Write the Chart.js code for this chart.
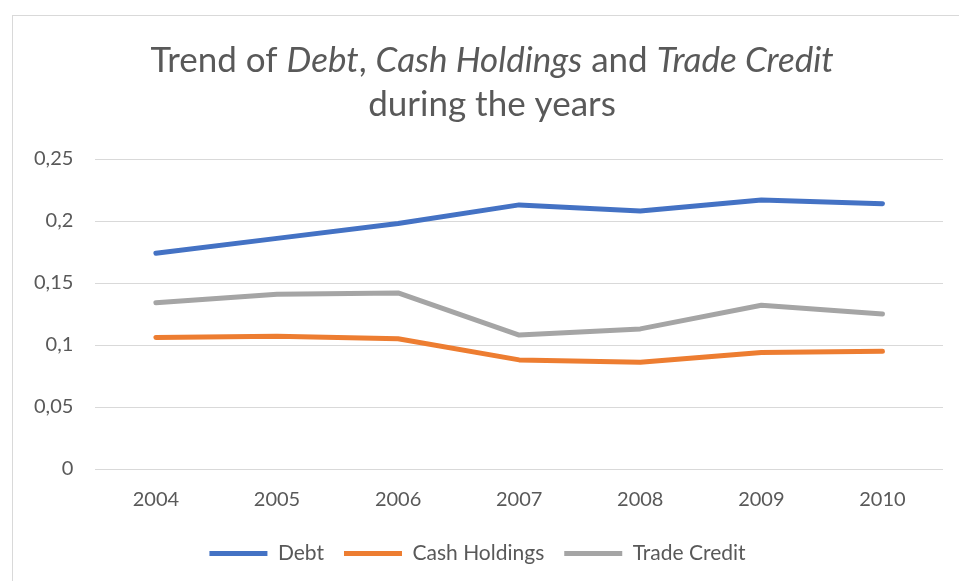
<!DOCTYPE html>
<html lang="en">
<head>
  <meta charset="UTF-8" />
  <title>Debt, Cash Holdings and Trade Credit</title>
  <script src="https://cdn.jsdelivr.net/npm/chart.js"></script>
  <style>
    html, body { margin: 0; padding: 0; background: #fff; overflow: hidden; }
    .frame {
      position: absolute; left: 12px; top: 15px;
      width: 960px; height: 580px;
      border: 1px solid #d9d9d9;
    }
    .wrap { position: absolute; left: 0; top: 0; width: 959px; height: 581px; }
  </style>
</head>
<body>
  <div class="frame"></div>
  <div class="wrap"><canvas id="trendChart"></canvas></div>

  <script>
    const years = ['2004', '2005', '2006', '2007', '2008', '2009', '2010'];
    const debt = [0.174, 0.186, 0.198, 0.213, 0.208, 0.217, 0.214];
    const cashHoldings = [0.106, 0.107, 0.105, 0.088, 0.086, 0.094, 0.095];
    const tradeCredit = [0.134, 0.141, 0.142, 0.108, 0.113, 0.132, 0.125];

    const FONT = 'Lato, "Open Sans", sans-serif';
    const TEXT = '#595959';

    // title with italic variable names, drawn in pieces
    const titleLines = [
      [['Trend of ', false], ['Debt', true], [', ', false], ['Cash Holdings', true],
       [' and ', false], ['Trade Credit', true]],
      [['during the years', false]]
    ];

    const titlePlugin = {
      id: 'mixedTitle',
      afterDraw(chart) {
        const ctx = chart.ctx;
        const cx = 492;
        const ys = [61, 105];
        ctx.save();
        ctx.fillStyle = TEXT;
        ctx.textBaseline = 'middle';
        ctx.textAlign = 'left';
        titleLines.forEach((parts, i) => {
          let total = 0;
          parts.forEach(([txt, it]) => {
            ctx.font = (it ? 'italic ' : '') + '35px ' + FONT;
            total += ctx.measureText(txt).width;
          });
          let x = cx - total / 2;
          parts.forEach(([txt, it]) => {
            ctx.font = (it ? 'italic ' : '') + '35px ' + FONT;
            ctx.fillText(txt, x, ys[i]);
            x += ctx.measureText(txt).width;
          });
        });
        ctx.restore();
      }
    };

    const lineSet = (label, data, color) => ({
      label,
      data,
      borderColor: color,
      backgroundColor: color,
      borderWidth: 5,
      borderCapStyle: 'round',
      borderJoinStyle: 'round',
      pointRadius: 0,
      pointHoverRadius: 0,
      tension: 0
    });

    new Chart(document.getElementById('trendChart'), {
      type: 'line',
      data: {
        labels: years,
        datasets: [
          lineSet('Debt', debt, '#4472C4'),
          lineSet('Cash Holdings', cashHoldings, '#ED7D31'),
          lineSet('Trade Credit', tradeCredit, '#A5A5A5')
        ]
      },
      options: {
        responsive: true,
        maintainAspectRatio: false,
        animation: false,
        layout: { padding: { top: 159, left: 12, right: 16, bottom: 7 } },
        plugins: {
          title: { display: false },
          tooltip: { enabled: false },
          legend: {
            position: 'bottom',
            labels: {
              usePointStyle: true,
              pointStyle: 'line',
              pointStyleWidth: 58,
              color: TEXT,
              font: { family: FONT, size: 21 },
              padding: 20
            }
          }
        },
        scales: {
          x: {
            offset: true,
            grid: { display: false },
            border: { display: false },
            ticks: { color: TEXT, font: { family: FONT, size: 20 }, padding: 11 }
          },
          y: {
            min: 0,
            max: 0.25,
            border: { display: false },
            grid: { color: '#d9d9d9', lineWidth: 1, drawTicks: false },
            ticks: {
              stepSize: 0.05,
              color: TEXT,
              font: { family: FONT, size: 20 },
              padding: 22,
              callback: v => String(+v.toFixed(2)).replace('.', ',')
            }
          }
        }
      },
      plugins: [titlePlugin]
    });
  </script>
</body>
</html>
